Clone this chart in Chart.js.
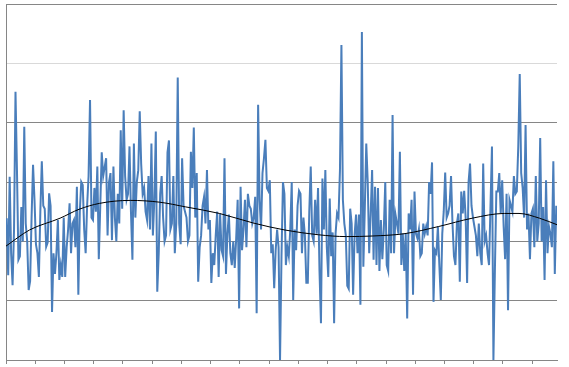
<!DOCTYPE html>
<html>
<head>
<meta charset="utf-8">
<script src="https://cdn.jsdelivr.net/npm/chart.js@4/dist/chart.umd.min.js"></script>
<style>
html,body{margin:0;padding:0;background:#fff;}
#c{display:block;}
</style>
</head>
<body>
<canvas id="c" width="569" height="367"></canvas>
<script>
// Series values (one per category)
const values = [
 2.39,1.43,3.09,1.80,1.26,2.20,4.52,3.20,1.69,1.75,
 2.58,2.00,3.93,2.30,2.00,1.18,1.33,2.40,3.29,2.70,
 1.95,1.80,1.40,2.50,3.35,2.60,2.55,1.91,1.98,2.81,
 2.60,0.81,1.80,1.45,1.80,2.36,1.35,1.60,1.40,2.40,
 1.40,1.90,2.20,2.64,1.80,2.30,2.36,1.90,2.92,1.10,
 2.50,3.00,2.95,2.20,1.80,2.60,3.10,4.38,2.40,2.36,
 2.90,2.50,3.26,1.70,2.60,3.50,3.10,3.25,3.40,2.10,
 3.00,3.15,2.02,3.26,2.40,2.00,2.80,2.30,3.87,2.55,
 4.21,3.10,2.70,2.80,3.60,2.50,1.69,3.65,2.40,3.00,
 3.20,4.19,3.30,2.80,2.90,2.50,2.36,3.10,2.20,3.65,
 2.10,2.70,3.85,1.15,1.80,2.80,3.10,2.40,2.00,2.10,
 3.50,3.70,2.20,2.30,3.10,1.80,2.30,4.76,2.30,1.95,
 3.40,2.60,2.50,2.40,2.00,2.10,3.51,2.90,3.92,2.40,
 3.15,1.32,1.90,2.10,2.60,2.75,2.30,3.20,2.20,2.36,
 1.30,1.80,1.60,2.10,2.50,1.40,2.47,1.85,1.75,3.40,
 1.45,2.13,2.45,1.80,1.60,2.00,1.55,2.05,2.70,0.87,
 2.92,1.85,2.20,2.70,1.90,2.80,2.60,2.55,2.30,2.40,
 2.75,0.79,4.30,2.70,2.20,3.15,3.40,3.71,2.90,2.85,
 3.03,1.80,1.95,1.21,1.85,2.20,1.90,0.00,1.75,3.00,
 2.80,1.60,1.90,1.75,2.20,3.00,1.01,2.20,1.85,2.60,
 2.85,2.80,1.80,2.40,2.10,1.30,1.30,2.50,3.26,2.10,
 2.00,2.70,2.13,2.90,1.50,0.62,3.06,2.20,3.20,1.90,
 1.40,2.72,1.75,2.15,0.62,2.13,2.47,2.40,3.20,5.31,
 2.70,2.30,2.10,1.25,1.20,2.55,2.30,1.10,2.10,2.45,
 1.80,2.45,0.93,5.53,1.57,2.55,3.65,3.00,1.80,2.45,
 3.20,1.69,2.92,1.60,2.90,1.50,2.36,1.70,2.20,3.00,
 1.60,1.50,2.70,1.80,4.13,1.80,2.45,2.30,2.13,3.51,
 1.60,2.13,1.50,2.13,0.70,2.47,2.20,2.70,1.10,2.84,
 2.13,2.05,2.20,1.75,1.80,2.30,2.13,2.25,2.10,3.00,
 2.80,3.33,0.98,1.85,1.80,2.25,1.60,1.01,2.13,2.50,
 3.16,2.40,2.47,2.60,3.10,2.30,1.75,1.60,2.30,2.47,
 1.32,2.84,2.47,2.85,2.40,1.30,3.00,3.31,2.60,2.40,
 2.25,2.10,1.75,2.30,1.80,1.60,3.31,2.00,2.10,1.80,
 1.60,2.60,3.60,0.00,1.50,2.84,2.84,3.15,2.47,3.03,
 2.25,1.70,2.80,0.84,2.70,2.60,2.50,3.10,2.80,2.84,
 3.60,4.82,3.15,2.90,2.40,3.96,2.20,2.47,1.70,2.47,
 2.55,1.90,3.10,2.00,2.30,3.74,2.00,2.58,1.35,3.03,
 1.80,2.25,2.13,1.90,3.35,1.45,2.60
];
// Trendline readings (category position, value)
const trendX = [0, 16, 37, 50, 64, 85, 105, 123, 146, 169, 191, 214, 233, 251, 273, 296, 319, 341, 351, 365, 377];
const trendY = [1.92, 2.19, 2.39, 2.54, 2.64, 2.69, 2.66, 2.58, 2.47, 2.31, 2.19, 2.11, 2.08, 2.09, 2.13, 2.25, 2.39, 2.47, 2.47, 2.39, 2.28];
// Axis ranges
const yTicks = [0, 1, 2, 3, 4, 5, 6];
const xTickStep = 20;

const seriesPts = values.map((v, i) => ({x: i + 0.5, y: v}));
const trendPts = trendX.map((x, i) => ({x: x, y: trendY[i]}));
const N = values.length;

new Chart(document.getElementById('c'), {
  type: 'line',
  data: {
    datasets: [
      { data: trendPts, borderColor: '#000000', borderWidth: 1, pointRadius: 0, tension: 0.4, cubicInterpolationMode: 'monotone', fill: false, order: 0 },
      { data: seriesPts, borderColor: '#4a7ebb', borderWidth: 2, pointRadius: 0, tension: 0, fill: false, order: 1 }
    ]
  },
  options: {
    responsive: false, animation: false, events: [],
    layout: {padding: {left: 6, top: 4, right: 12, bottom: 3}},
    plugins: {legend: {display: false}, tooltip: {enabled: false}},
    scales: {
      x: {
        type: 'linear', min: 0, max: N,
        afterBuildTicks: (s) => { const t = []; for (let v = 0; v <= N; v += xTickStep) t.push({value: v}); s.ticks = t; },
        ticks: {display: false},
        grid: {drawOnChartArea: false, drawTicks: true, tickLength: 4, color: '#868686', lineWidth: 1},
        border: {display: true, color: '#868686', width: 1}
      },
      y: {
        min: yTicks[0], max: yTicks[yTicks.length - 1],
        afterBuildTicks: (s) => { s.ticks = yTicks.map(v => ({value: v})); },
        ticks: {display: false},
        grid: { drawTicks: false, color: (ctx) => (ctx.tick && ctx.tick.value === 5) ? '#d9d9d9' : '#868686', lineWidth: 1 },
        border: {display: true, color: '#868686', width: 1}
      }
    }
  }
});
</script>
</body>
</html>
